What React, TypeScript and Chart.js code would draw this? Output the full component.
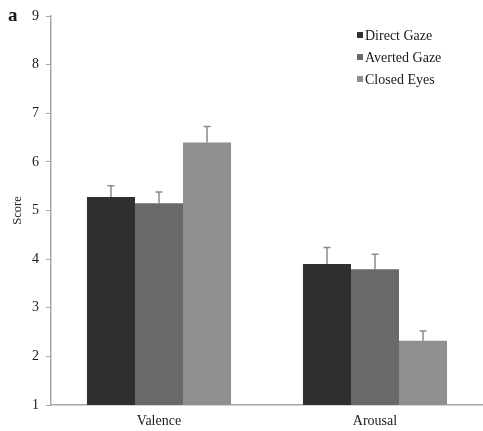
import React, { useEffect, useRef } from "react";
import { Chart, registerables } from "chart.js";

Chart.register(...registerables);

const categories = ["Valence", "Arousal"];
const seriesNames = ["Direct Gaze", "Averted Gaze", "Closed Eyes"];
const directGaze = [5.28, 3.9];
const avertedGaze = [5.15, 3.79];
const closedEyes = [6.4, 2.32];
const directErr = [0.23, 0.34];
const avertedErr = [0.23, 0.31];
const closedErr = [0.33, 0.2];
const seriesColors = ["#2f2f2f", "#696969", "#8f8f8f"];
const yTicks = [1, 2, 3, 4, 5, 6, 7, 8, 9];

const FONT = "'Liberation Serif', 'Times New Roman', serif";

const errorBarPlugin = {
  id: "errorBars",
  afterDatasetsDraw(chart: any) {
    const ctx = chart.ctx;
    const errs = [directErr, avertedErr, closedErr];
    const yScale = chart.scales.y;
    ctx.save();
    ctx.strokeStyle = "#8a8a8a";
    ctx.lineWidth = 1.5;
    chart.data.datasets.forEach((ds: any, i: number) => {
      const meta = chart.getDatasetMeta(i);
      meta.data.forEach((bar: any, j: number) => {
        const v = ds.data[j];
        const top = yScale.getPixelForValue(v + errs[i][j]);
        const x = bar.x;
        ctx.beginPath();
        ctx.moveTo(x, bar.y);
        ctx.lineTo(x, top);
        ctx.moveTo(x - 3.5, top);
        ctx.lineTo(x + 3.5, top);
        ctx.stroke();
      });
    });
    ctx.restore();
  },
};

const legendPlugin = {
  id: "customLegend",
  afterDraw(chart: any) {
    const ctx = chart.ctx;
    ctx.save();
    ctx.font = `14px ${FONT}`;
    ctx.textBaseline = "middle";
    ctx.textAlign = "left";
    chart.data.datasets.forEach((ds: any, i: number) => {
      const y = 35 + i * 22;
      ctx.fillStyle = ds.backgroundColor;
      ctx.fillRect(357, y - 3, 6, 6);
      ctx.fillStyle = "#1a1a1a";
      ctx.fillText(ds.label, 365, y + 1);
    });
    ctx.font = `bold 19px ${FONT}`;
    ctx.fillStyle = "#1a1a1a";
    ctx.fillText("a", 8, 16);
    ctx.restore();
  },
};

export default function App() {
  const ref = useRef<HTMLCanvasElement | null>(null);
  useEffect(() => {
    document.body.style.margin = "0";
    const values = [directGaze, avertedGaze, closedEyes];
    const chart = new Chart(ref.current!, {
      type: "bar",
      data: {
        labels: categories,
        datasets: seriesNames.map((name, i) => ({
          label: name,
          data: values[i],
          backgroundColor: seriesColors[i],
          borderWidth: 0,
          barPercentage: 1,
          categoryPercentage: 0.667,
        })),
      },
      options: {
        responsive: false,
        animation: false,
        layout: { padding: { top: 16, left: 0, right: 0, bottom: 0 } },
        plugins: { legend: { display: false }, tooltip: { enabled: false } },
        scales: {
          x: {
            grid: { display: false, drawTicks: false },
            border: { color: "#a8a8a8", width: 1.5 },
            ticks: { color: "#1a1a1a", font: { family: FONT, size: 14 }, padding: 8 },
            afterFit(scale: any) {
              scale.height = 26;
            },
          },
          y: {
            min: 1,
            max: 9,
            grid: { drawOnChartArea: false, drawTicks: true, tickLength: 5, color: "#a8a8a8" },
            border: { color: "#a8a8a8", width: 1.5 },
            afterBuildTicks(scale: any) {
              scale.ticks = yTicks.map((v) => ({ value: v }));
            },
            ticks: { color: "#1a1a1a", font: { family: FONT, size: 14 }, padding: 7 },
            title: {
              display: true,
              text: "Score",
              color: "#1a1a1a",
              font: { family: FONT, size: 12.5 },
              padding: { top: 10, bottom: 0 },
            },
            afterFit(scale: any) {
              scale.width = 51;
            },
          },
        },
      },
      plugins: [errorBarPlugin, legendPlugin],
    });
    return () => chart.destroy();
  }, []);
  return (
    <div style={{ width: 483, height: 431 }}>
      <canvas ref={ref} width={483} height={431} style={{ display: "block" }} />
    </div>
  );
}
